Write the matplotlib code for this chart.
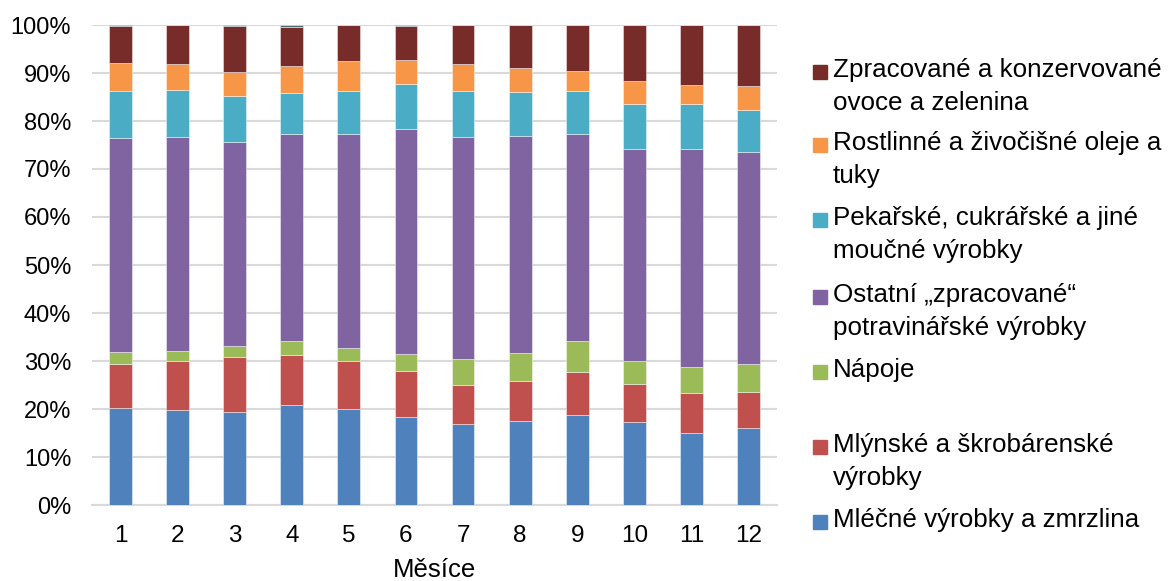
import matplotlib
matplotlib.use("Agg")
import matplotlib.pyplot as plt
from matplotlib.patches import Rectangle
import numpy as np

plt.rcParams['font.family'] = ['Liberation Sans', 'DejaVu Sans']

months = [str(i) for i in range(1, 13)]

mlecne = [20.3, 19.7, 19.3, 20.8, 19.9, 18.3, 16.8, 17.6, 18.8, 17.2, 15.0, 16.0]
mlynske = [9.1, 10.4, 11.6, 10.5, 10.2, 9.7, 8.2, 8.3, 9.0, 8.1, 8.3, 7.5]
napoje = [2.4, 2.0, 2.2, 2.9, 2.6, 3.4, 5.5, 5.8, 6.4, 4.7, 5.4, 5.8]
ostatni = [44.7, 44.6, 42.6, 43.1, 44.5, 47.0, 46.2, 45.2, 43.0, 44.2, 45.5, 44.3]
pekarske = [9.7, 9.7, 9.5, 8.6, 9.0, 9.3, 9.6, 9.1, 9.0, 9.4, 9.3, 8.7]
oleje = [5.9, 5.5, 5.0, 5.6, 6.4, 5.0, 5.6, 5.0, 4.3, 4.8, 4.1, 4.9]
ovoce = [7.6, 8.0, 9.5, 8.1, 7.3, 7.1, 8.0, 8.9, 9.4, 11.5, 12.3, 12.7]
ostatni_maly = [0.3, 0.1, 0.3, 0.4, 0.1, 0.2, 0.1, 0.1, 0.1, 0.1, 0.1, 0.1]

labels = [
    "Mléčné výrobky a zmrzlina",
    "Mlýnské a škrobárenské\nvýrobky",
    "Nápoje",
    "Ostatní „zpracované“\npotravinářské výrobky",
    "Pekařské, cukrářské a jiné\nmoučné výrobky",
    "Rostlinné a živočišné oleje a\ntuky",
    "Zpracované a konzervované\novoce a zelenina",
]
colors = ["#4F81BD", "#C0504D", "#9BBB59", "#8064A2", "#4BACC6", "#F79646", "#772C2A"]
series = [mlecne, mlynske, napoje, ostatni, pekarske, oleje, ovoce, ostatni_maly]
all_colors = colors + ["#4A6E74"]

fig = plt.figure(figsize=(11.71, 5.81), dpi=100)
W, H = 1171, 581
ax = fig.add_axes([92 / W, (H - 505) / H, (777 - 92) / W, (505 - 25) / H])

x = np.arange(1, 13)
bottom = np.zeros(12)
for vals, c in zip(series, all_colors):
    v = np.array(vals) / 100.0
    ax.bar(x, v, 0.4, bottom=bottom, color=c, edgecolor=(1, 1, 1, 0.45),
           linewidth=0.7, zorder=3)
    bottom += v

ax.set_xlim(0.5, 12.5)
ax.set_ylim(0, 1.0)
ax.set_yticks(np.arange(0, 1.01, 0.1))
ax.set_yticklabels([f"{int(round(t*100))}%" for t in np.arange(0, 1.01, 0.1)])
ax.set_xticks(x)
ax.set_xticklabels(months)
ax.tick_params(axis='y', length=0, pad=15, labelsize=17, colors='#000000')
ax.tick_params(axis='x', length=0, pad=14.5, labelsize=17.5, colors='#000000')
ax.yaxis.grid(True, color='#D9D9D9', linewidth=1.5, zorder=0)
ax.set_axisbelow(True)
for s in ['left', 'right', 'top']:
    ax.spines[s].set_visible(False)
ax.spines['bottom'].set_color('#D9D9D9')
ax.spines['bottom'].set_linewidth(1.5)
ax.set_xlabel("Měsíce", fontsize=18.5, labelpad=8)

# Legend (Excel-style, equal spacing, handle aligned with first line)
legend_order = list(range(6, -1, -1))
y_first = [72, 145, 220, 297, 372, 447, 522]
for idx, yy in zip(legend_order, y_first):
    fig.patches.append(Rectangle((813 / W, (H - yy - 7) / H), 14 / W, 14 / H,
                                 transform=fig.transFigure, color=colors[idx]))
    fig.text(833 / W, (H - yy + 14) / H, labels[idx], fontsize=18.7,
             va='top', ha='left', linespacing=1.46)

fig.savefig("out.png", dpi=100)
